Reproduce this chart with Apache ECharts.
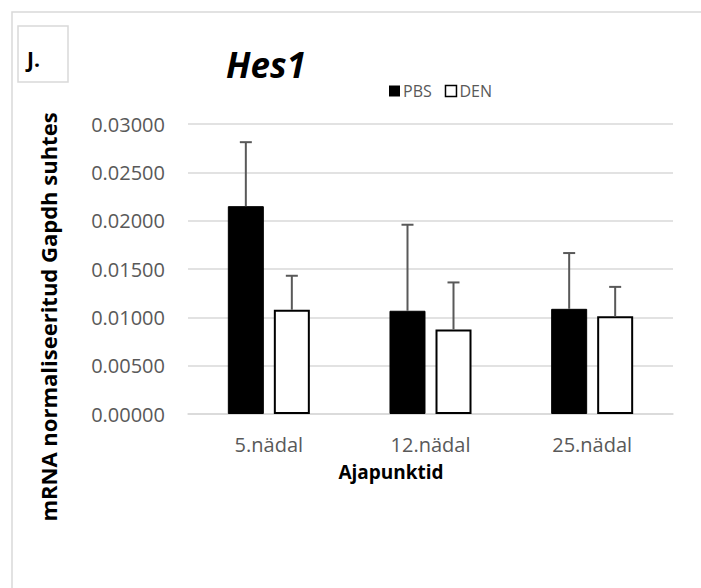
<!DOCTYPE html>
<html>
<head>
<meta charset="utf-8">
<script src="https://cdn.jsdelivr.net/npm/echarts@6/dist/echarts.min.js"></script>
<style>
  html, body { margin: 0; padding: 0; background: #ffffff; }
  #chart { width: 701px; height: 588px; }
</style>
</head>
<body>
<div id="chart"></div>
<script>
// Hes1 expression per time point (mean and SD)
const categories = ['5.nädal', '12.nädal', '25.nädal'];
const seriesNames = ['PBS', 'DEN'];
const pbsValues = [0.02150, 0.01068, 0.01088];
const pbsErrors = [0.00662, 0.00890, 0.00577];
const denValues = [0.01078, 0.00874, 0.01010];
const denErrors = [0.00352, 0.00487, 0.00305];
const yTicks = { min: 0, max: 0.03, interval: 0.005 };

const titleText = 'Hes1';
const panelLabel = 'J.';
const xAxisTitle = 'Ajapunktid';
const yAxisTitle = 'mRNA normaliseeritud Gapdh suhtes';

const BAR_WIDTH = 36;
const BAR_GAP_PX = 10;
const LABEL_FONT = '"Open Sans", "Noto Sans", sans-serif';
const GRID_COLOR = '#d9d9d9';
const TEXT_GRAY = '#595959';

const chart = echarts.init(document.getElementById('chart'), null, { renderer: 'svg' });

// upper-only error whiskers, shifted to sit over the matching bar in each pair
function errorSeries(name, values, errors, side) {
  const data = values.map((v, i) => [i, v, errors[i]]);
  return {
    type: 'custom',
    name: name + ' SD',
    z: 5,
    silent: true,
    data: data,
    renderItem: function (params, api) {
      const i = api.value(0);
      const top = api.coord([i, api.value(1) + api.value(2)]);
      const base = api.coord([i, api.value(1)]);
      const x = base[0] + side * (BAR_WIDTH + BAR_GAP_PX) / 2;
      const cap = 6;
      const style = { stroke: TEXT_GRAY, lineWidth: 2 };
      return {
        type: 'group',
        children: [
          { type: 'line', shape: { x1: x, y1: base[1], x2: x, y2: top[1] }, style: style },
          { type: 'line', shape: { x1: x - cap, y1: top[1], x2: x + cap, y2: top[1] }, style: style }
        ]
      };
    }
  };
}

const option = {
  backgroundColor: '#ffffff',
  animation: false,
  grid: { left: 188, right: 28, top: 124, bottom: 174, containLabel: false },
  legend: {
    left: 384,
    top: 78,
    itemWidth: 11,
    itemHeight: 11,
    itemGap: 13,
    icon: 'rect',
    textStyle: { fontFamily: LABEL_FONT, fontSize: 16, color: TEXT_GRAY, padding: [0, 0, 0, -2] },
    data: [
      { name: seriesNames[0], itemStyle: { color: '#000000', borderWidth: 0 } },
      { name: seriesNames[1], itemStyle: { color: '#ffffff', borderColor: '#000000', borderWidth: 1.5 } }
    ]
  },
  xAxis: {
    type: 'category',
    data: categories,
    axisLine: { show: true, lineStyle: { color: GRID_COLOR, width: 1.5 } },
    axisTick: { show: false },
    axisLabel: { fontFamily: LABEL_FONT, fontSize: 20, color: TEXT_GRAY, margin: 20 }
  },
  yAxis: {
    type: 'value',
    min: yTicks.min,
    max: yTicks.max,
    interval: yTicks.interval,
    axisLine: { show: false },
    axisTick: { show: false },
    splitLine: { lineStyle: { color: GRID_COLOR, width: 1.5 } },
    axisLabel: {
      fontFamily: LABEL_FONT, fontSize: 20, color: TEXT_GRAY, margin: 23,
      formatter: function (v) { return v.toFixed(5); }
    }
  },
  series: [
    {
      type: 'bar',
      name: seriesNames[0],
      data: pbsValues,
      barWidth: BAR_WIDTH,
      barGap: (BAR_GAP_PX / BAR_WIDTH * 100).toFixed(1) + '%',
      itemStyle: { color: '#000000', borderColor: '#000000', borderWidth: 1 }
    },
    {
      type: 'bar',
      name: seriesNames[1],
      data: denValues,
      barWidth: BAR_WIDTH,
      itemStyle: { color: '#ffffff', borderColor: '#000000', borderWidth: 2 }
    },
    errorSeries(seriesNames[0], pbsValues, pbsErrors, -1),
    errorSeries(seriesNames[1], denValues, denErrors, 1)
  ],
  graphic: [
    // outer chart frame
    { type: 'rect', z: -10, shape: { x: 12, y: 12, width: 720, height: 620 },
      style: { fill: '#ffffff', stroke: GRID_COLOR, lineWidth: 1.5 } },
    // panel letter box
    { type: 'rect', z: 1, shape: { x: 18, y: 26, width: 50, height: 56 },
      style: { fill: '#ffffff', stroke: GRID_COLOR, lineWidth: 1.5 } },
    { type: 'text', z: 2, x: 27, y: 59,
      style: { text: panelLabel, fill: '#000000', fontFamily: LABEL_FONT, fontWeight: 'bold',
               fontSize: 21, align: 'left', verticalAlign: 'middle' } },
    // chart title
    { type: 'text', z: 2, x: 266, y: 64,
      style: { text: titleText, fill: '#000000', fontFamily: LABEL_FONT, fontWeight: 'bold',
               fontStyle: 'italic', fontSize: 35, align: 'center', verticalAlign: 'middle' } },
    // axis titles
    { type: 'text', z: 2, x: 391, y: 472,
      style: { text: xAxisTitle, fill: '#000000', fontFamily: LABEL_FONT, fontWeight: 'bold',
               fontSize: 19, align: 'center', verticalAlign: 'middle' } },
    { type: 'text', z: 2, x: 48, y: 317, rotation: Math.PI / 2,
      style: { text: yAxisTitle, fill: '#000000', fontFamily: LABEL_FONT, fontWeight: 'bold',
               fontSize: 22, align: 'center', verticalAlign: 'middle' } }
  ]
};

chart.setOption(option);
</script>
</body>
</html>
